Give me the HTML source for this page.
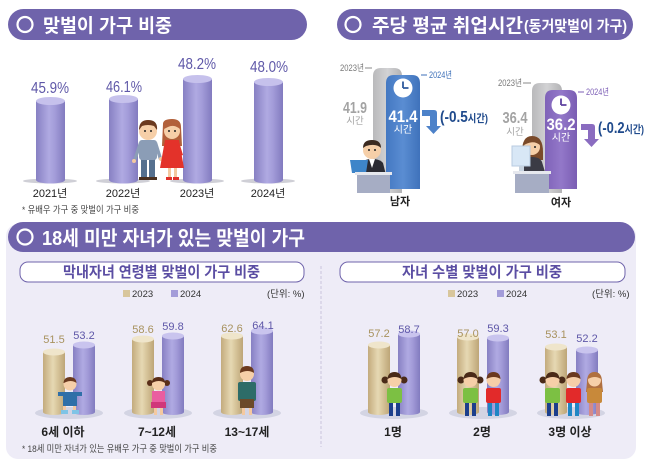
<!DOCTYPE html>
<html><head><meta charset="utf-8">
<style>
html,body{margin:0;padding:0;background:#fff;}
svg{display:block;font-family:"Liberation Sans","Noto Sans CJK KR",sans-serif;}
</style></head>
<body>
<svg width="650" height="463" viewBox="0 0 650 463" xmlns="http://www.w3.org/2000/svg">
<defs>
<linearGradient id="pg" x1="0" x2="1" y1="0" y2="0">
<stop offset="0" stop-color="#8780c3"/><stop offset="0.45" stop-color="#b0aae2"/><stop offset="0.65" stop-color="#a39cd9"/><stop offset="1" stop-color="#827bbf"/>
</linearGradient>
<linearGradient id="tg" x1="0" x2="1" y1="0" y2="0">
<stop offset="0" stop-color="#c3ab7d"/><stop offset="0.45" stop-color="#e6d8b3"/><stop offset="0.65" stop-color="#d8c69c"/><stop offset="1" stop-color="#bda577"/>
</linearGradient>
<linearGradient id="gg" x1="0" x2="1"><stop offset="0" stop-color="#b9b9bb"/><stop offset="0.5" stop-color="#d2d2d4"/><stop offset="1" stop-color="#b3b3b5"/></linearGradient>
<linearGradient id="bg" x1="0" x2="1"><stop offset="0" stop-color="#4478c2"/><stop offset="0.5" stop-color="#5a8dd2"/><stop offset="1" stop-color="#3f72bb"/></linearGradient>
<linearGradient id="vg" x1="0" x2="1"><stop offset="0" stop-color="#7f62b8"/><stop offset="0.5" stop-color="#9378c9"/><stop offset="1" stop-color="#7a5db3"/></linearGradient>
</defs>

<!-- ===== Banner 1 ===== -->
<rect x="8" y="9" width="299" height="31" rx="15.5" fill="#6f63ab"/>
<circle cx="25" cy="24.5" r="7.5" fill="none" stroke="#fff" stroke-width="2.2"/>
<text x="43" y="32" font-size="19" font-weight="bold" fill="#fff" textLength="129" lengthAdjust="spacingAndGlyphs">맞벌이 가구 비중</text>

<!-- shadows -->
<ellipse cx="50" cy="181" rx="27" ry="2.5" fill="#cfcfd6"/>
<ellipse cx="123" cy="181" rx="27" ry="2.5" fill="#cfcfd6"/>
<ellipse cx="197" cy="181" rx="27" ry="2.5" fill="#cfcfd6"/>
<ellipse cx="268" cy="181" rx="27" ry="2.5" fill="#cfcfd6"/>

<!-- bars top-left -->
<g>
<rect x="36" y="101" width="29" height="79" fill="url(#pg)"/><ellipse cx="50.5" cy="180" rx="14.5" ry="3.5" fill="url(#pg)"/><ellipse cx="50.5" cy="101" rx="14.5" ry="4" fill="#c6c1ec"/>
<rect x="109" y="99" width="29" height="81" fill="url(#pg)"/><ellipse cx="123.5" cy="180" rx="14.5" ry="3.5" fill="url(#pg)"/><ellipse cx="123.5" cy="99" rx="14.5" ry="4" fill="#c6c1ec"/>
<rect x="183" y="79" width="29" height="101" fill="url(#pg)"/><ellipse cx="197.5" cy="180" rx="14.5" ry="3.5" fill="url(#pg)"/><ellipse cx="197.5" cy="79" rx="14.5" ry="4" fill="#c6c1ec"/>
<rect x="254" y="82" width="29" height="98" fill="url(#pg)"/><ellipse cx="268.5" cy="180" rx="14.5" ry="3.5" fill="url(#pg)"/><ellipse cx="268.5" cy="82" rx="14.5" ry="4" fill="#c6c1ec"/>
</g>
<g font-size="16" fill="#5f58a8" text-anchor="middle">
<text x="50" y="93" textLength="38" lengthAdjust="spacingAndGlyphs">45.9%</text>
<text x="124" y="92" textLength="36" lengthAdjust="spacingAndGlyphs">46.1%</text>
<text x="197" y="69" textLength="38" lengthAdjust="spacingAndGlyphs">48.2%</text>
<text x="269" y="72" textLength="38" lengthAdjust="spacingAndGlyphs">48.0%</text>
</g>
<g font-size="11" fill="#222" text-anchor="middle">
<text x="50" y="197">2021년</text><text x="123" y="197">2022년</text><text x="197" y="197">2023년</text><text x="268" y="197">2024년</text>
</g>
<text x="22" y="213" font-size="9.5" fill="#444" textLength="117" lengthAdjust="spacingAndGlyphs">* 유배우 가구 중 맞벌이 가구 비중</text>

<!-- couple -->
<g>
<rect x="141" y="158" width="6" height="20" fill="#55708f"/><rect x="149" y="158" width="6" height="20" fill="#55708f"/>
<rect x="139" y="177" width="9" height="3" fill="#4a3020"/><rect x="148" y="177" width="9" height="3" fill="#4a3020"/>
<rect x="139" y="140" width="18" height="20" rx="3" fill="#8b9db6"/>
<path d="M139 142 L133 160 L136 161 L141 147 Z" fill="#8b9db6"/>
<path d="M157 142 L162 158 L159 160 L155 147 Z" fill="#8b9db6"/>
<circle cx="134" cy="161" r="2" fill="#f4c9a0"/><circle cx="161" cy="159" r="2" fill="#f4c9a0"/>
<circle cx="148" cy="131" r="9" fill="#f6cfa8"/>
<path d="M139 130 Q139 120 148 120 Q158 120 157 130 L154 126 Q148 124 142 126 Z" fill="#6b3a1f"/>
<circle cx="145" cy="131" r="1" fill="#222"/><circle cx="151" cy="131" r="1" fill="#222"/>
<rect x="168" y="166" width="3" height="11" fill="#f4c9a0"/><rect x="174" y="166" width="3" height="11" fill="#f4c9a0"/>
<rect x="166" y="177" width="6" height="3" fill="#e0302a"/><rect x="173" y="177" width="6" height="3" fill="#e0302a"/>
<path d="M163 124 Q163 119 172 119 Q181 119 181 127 L182 146 L162 146 Z" fill="#b2603a"/>
<path d="M165 140 L179 140 L184 168 L160 168 Z" fill="#e3322a"/>
<path d="M179 142 L183 155 L180 156 L177 147 Z" fill="#e3322a"/>
<circle cx="172" cy="131" r="8" fill="#f6cfa8"/>
<path d="M164 129 Q165 121 172 121 Q180 121 180 129 Q174 124 168 127 Z" fill="#b2603a"/>
<circle cx="169" cy="131" r="1" fill="#222"/><circle cx="175" cy="131" r="1" fill="#222"/>
</g>

<!-- ===== Banner 2 ===== -->
<rect x="337" y="9" width="296" height="31" rx="15.5" fill="#6f63ab"/>
<circle cx="353" cy="24.5" r="7.5" fill="none" stroke="#fff" stroke-width="2.2"/>
<text x="372" y="32" font-size="19" font-weight="bold" fill="#fff" textLength="151" lengthAdjust="spacingAndGlyphs">주당 평균 취업시간</text>
<text x="524" y="31" font-size="15" font-weight="bold" fill="#fff" textLength="103" lengthAdjust="spacingAndGlyphs">(동거맞벌이 가구)</text>

<!-- male -->
<path d="M373 193 L373 76 Q373 68 381 68 L394 68 Q402 68 402 76 L402 193 Z" fill="url(#gg)"/>
<path d="M386 189 L386 83 Q386 75 394 75 L412 75 Q420 75 420 83 L420 189 Z" fill="url(#bg)"/>
<circle cx="403" cy="88" r="9.5" fill="#fff"/>
<path d="M403 88 L403 81.5 M403 88 L408.5 88" stroke="#2f5a9c" stroke-width="1.8" fill="none"/>
<text x="403" y="122" font-size="17" font-weight="bold" fill="#fff" text-anchor="middle" textLength="29" lengthAdjust="spacingAndGlyphs">41.4</text>
<text x="403" y="133" font-size="10" fill="#fff" text-anchor="middle">시간</text>
<text x="340" y="71" font-size="9" fill="#777" textLength="24" lengthAdjust="spacingAndGlyphs">2023년</text>
<line x1="365" y1="68" x2="372" y2="68" stroke="#888" stroke-width="1"/>
<line x1="421" y1="75" x2="427" y2="75" stroke="#3c6fb8" stroke-width="1"/>
<text x="429" y="78" font-size="9" fill="#3c6fb8" textLength="23" lengthAdjust="spacingAndGlyphs">2024년</text>
<text x="355" y="113" font-size="16" font-weight="bold" fill="#a3a3a3" text-anchor="middle" textLength="24" lengthAdjust="spacingAndGlyphs">41.9</text>
<text x="355" y="124" font-size="9.5" fill="#a3a3a3" text-anchor="middle">시간</text>
<path d="M422 110 L434 110 Q437 110 437 113 L437 126 L441 126 L433.5 134 L426 126 L430 126 L430 116 L422 116 Z" fill="#4d82c9"/>
<text x="440" y="122" font-size="16" font-weight="bold" fill="#1f4a8c" textLength="48" lengthAdjust="spacingAndGlyphs">(-0.5<tspan font-size="11">시간)</tspan></text>
<circle cx="372" cy="150" r="9" fill="#f6cfa8"/>
<path d="M363 148 Q363 140 372 140 Q381 140 381 148 Q376 143 366 146 Z" fill="#3b2a20"/>
<circle cx="369" cy="150" r="1" fill="#222"/><circle cx="375" cy="150" r="1" fill="#222"/>
<path d="M360 175 L362 163 Q364 159 372 159 Q380 159 383 163 L386 175 Z" fill="#2b2b33"/>
<path d="M369 159 L372 168 L375 159 Z" fill="#fff"/>
<path d="M350 160 L368 160 L366 173 L352 173 Z" fill="#3e85c9"/>
<rect x="355" y="172" width="37" height="3" fill="#e6e8ee"/>
<rect x="357" y="175" width="33" height="18" fill="#a6adc4"/>
<text x="400" y="205" font-size="11" font-weight="bold" fill="#222" text-anchor="middle">남자</text>

<!-- female -->
<path d="M532 193 L532 91 Q532 83 540 83 L554 83 Q562 83 562 91 L562 193 Z" fill="url(#gg)"/>
<path d="M545 189 L545 98 Q545 90 553 90 L569 90 Q577 90 577 98 L577 189 Z" fill="url(#vg)"/>
<circle cx="561" cy="105" r="9.5" fill="#fff"/>
<path d="M561 105 L561 98.5 M561 105 L566.5 105" stroke="#5e42a0" stroke-width="1.8" fill="none"/>
<text x="561" y="130" font-size="17" font-weight="bold" fill="#fff" text-anchor="middle" textLength="29" lengthAdjust="spacingAndGlyphs">36.2</text>
<text x="561" y="141" font-size="10" fill="#fff" text-anchor="middle">시간</text>
<text x="498" y="86" font-size="9" fill="#777" textLength="24" lengthAdjust="spacingAndGlyphs">2023년</text>
<line x1="523" y1="83" x2="531" y2="83" stroke="#888" stroke-width="1"/>
<line x1="578" y1="92" x2="584" y2="92" stroke="#7b5cb5" stroke-width="1"/>
<text x="586" y="95" font-size="9" fill="#7b5cb5" textLength="23" lengthAdjust="spacingAndGlyphs">2024년</text>
<text x="515" y="123" font-size="16" font-weight="bold" fill="#a3a3a3" text-anchor="middle" textLength="25" lengthAdjust="spacingAndGlyphs">36.4</text>
<text x="515" y="135" font-size="9.5" fill="#a3a3a3" text-anchor="middle">시간</text>
<path d="M581 124 L592 124 Q595 124 595 127 L595 139 L599 139 L591.5 147 L584 139 L588 139 L588 130 L581 130 Z" fill="#8a6cc0"/>
<text x="598" y="133" font-size="16" font-weight="bold" fill="#1f4a8c" textLength="46" lengthAdjust="spacingAndGlyphs">(-0.2<tspan font-size="11">시간)</tspan></text>
<path d="M522 152 Q522 136 532 136 Q543 136 543 152 L543 160 L522 160 Z" fill="#7a4a2a"/>
<circle cx="532" cy="147" r="8" fill="#f6cfa8"/>
<path d="M524 145 Q525 138 532 138 Q540 138 540 145 Q534 140 526 144 Z" fill="#7a4a2a"/>
<circle cx="529" cy="147" r="1" fill="#222"/><circle cx="535" cy="147" r="1" fill="#222"/>
<path d="M520 172 L522 162 Q524 157 532 157 Q540 157 542 162 L545 172 Z" fill="#3b3b45"/>
<rect x="512" y="146" width="18" height="20" fill="#d8e7f6" stroke="#b9cbe0" stroke-width="1"/>
<rect x="519" y="166" width="5" height="5" fill="#c7d3e0"/>
<rect x="513" y="171" width="38" height="3" fill="#e6e8ee"/>
<rect x="515" y="174" width="34" height="19" fill="#a6adc4"/>
<text x="561" y="206" font-size="11" font-weight="bold" fill="#222" text-anchor="middle">여자</text>

<!-- ===== Bottom panel ===== -->
<rect x="6" y="224" width="630" height="235" rx="12" fill="#eeecf7"/>
<rect x="8" y="222" width="627" height="30" rx="15" fill="#6f63ab"/>
<circle cx="25" cy="237" r="7.5" fill="none" stroke="#fff" stroke-width="2.2"/>
<text x="42" y="245" font-size="20" font-weight="bold" fill="#fff" textLength="263" lengthAdjust="spacingAndGlyphs">18세 미만 자녀가 있는 맞벌이 가구</text>

<rect x="20" y="262" width="284" height="20" rx="8" fill="#fff" stroke="#6f63ab" stroke-width="1"/>
<text x="63" y="277" font-size="15" font-weight="bold" fill="#5b4ea3" textLength="197" lengthAdjust="spacingAndGlyphs">막내자녀 연령별 맞벌이 가구 비중</text>
<rect x="340" y="262" width="285" height="20" rx="8" fill="#fff" stroke="#6f63ab" stroke-width="1"/>
<text x="402" y="277" font-size="15" font-weight="bold" fill="#5b4ea3" textLength="160" lengthAdjust="spacingAndGlyphs">자녀 수별 맞벌이 가구 비중</text>

<line x1="321" y1="266" x2="321" y2="447" stroke="#c9c5de" stroke-width="1" stroke-dasharray="3,2"/>

<g font-size="9.5" fill="#333">
<rect x="123" y="290" width="7" height="7" fill="#d8c69c"/><text x="132" y="297">2023</text>
<rect x="171" y="290" width="7" height="7" fill="#a39cd9"/><text x="180" y="297">2024</text>
<text x="267" y="297">(단위: %)</text>
<rect x="448" y="290" width="7" height="7" fill="#d8c69c"/><text x="457" y="297">2023</text>
<rect x="497" y="290" width="7" height="7" fill="#a39cd9"/><text x="506" y="297">2024</text>
<text x="592" y="297">(단위: %)</text>
</g>

<g fill="#d3d4e3">
<ellipse cx="69" cy="413" rx="34" ry="6"/><ellipse cx="158" cy="413" rx="34" ry="6"/><ellipse cx="247" cy="413" rx="34" ry="6"/>
<ellipse cx="394" cy="413" rx="34" ry="6"/><ellipse cx="483" cy="413" rx="34" ry="6"/><ellipse cx="571" cy="413" rx="34" ry="6"/>
</g>

<g>
<rect x="43" y="352" width="22" height="60" fill="url(#tg)"/><ellipse cx="54" cy="412" rx="11" ry="3" fill="url(#tg)"/><ellipse cx="54" cy="352" rx="11" ry="3.5" fill="#efe5cb"/>
<rect x="73" y="345" width="22" height="67" fill="url(#pg)"/><ellipse cx="84" cy="412" rx="11" ry="3" fill="url(#pg)"/><ellipse cx="84" cy="345" rx="11" ry="3.5" fill="#c9c4ee"/>
<rect x="132" y="339" width="22" height="73" fill="url(#tg)"/><ellipse cx="143" cy="412" rx="11" ry="3" fill="url(#tg)"/><ellipse cx="143" cy="339" rx="11" ry="3.5" fill="#efe5cb"/>
<rect x="162" y="336" width="22" height="76" fill="url(#pg)"/><ellipse cx="173" cy="412" rx="11" ry="3" fill="url(#pg)"/><ellipse cx="173" cy="336" rx="11" ry="3.5" fill="#c9c4ee"/>
<rect x="221" y="336" width="22" height="76" fill="url(#tg)"/><ellipse cx="232" cy="412" rx="11" ry="3" fill="url(#tg)"/><ellipse cx="232" cy="336" rx="11" ry="3.5" fill="#efe5cb"/>
<rect x="251" y="331" width="22" height="81" fill="url(#pg)"/><ellipse cx="262" cy="412" rx="11" ry="3" fill="url(#pg)"/><ellipse cx="262" cy="331" rx="11" ry="3.5" fill="#c9c4ee"/>
</g>
<g font-size="11" text-anchor="middle">
<text x="54" y="343" fill="#a8925e">51.5</text><text x="84" y="339" fill="#5e57a8">53.2</text>
<text x="143" y="333" fill="#a8925e">58.6</text><text x="173" y="330" fill="#5e57a8">59.8</text>
<text x="232" y="332" fill="#a8925e">62.6</text><text x="263" y="329" fill="#5e57a8">64.1</text>
</g>

<g>
<rect x="368" y="345" width="22" height="67" fill="url(#tg)"/><ellipse cx="379" cy="412" rx="11" ry="3" fill="url(#tg)"/><ellipse cx="379" cy="345" rx="11" ry="3.5" fill="#efe5cb"/>
<rect x="398" y="334" width="22" height="78" fill="url(#pg)"/><ellipse cx="409" cy="412" rx="11" ry="3" fill="url(#pg)"/><ellipse cx="409" cy="334" rx="11" ry="3.5" fill="#c9c4ee"/>
<rect x="457" y="337" width="22" height="75" fill="url(#tg)"/><ellipse cx="468" cy="412" rx="11" ry="3" fill="url(#tg)"/><ellipse cx="468" cy="337" rx="11" ry="3.5" fill="#efe5cb"/>
<rect x="487" y="338" width="22" height="74" fill="url(#pg)"/><ellipse cx="498" cy="412" rx="11" ry="3" fill="url(#pg)"/><ellipse cx="498" cy="338" rx="11" ry="3.5" fill="#c9c4ee"/>
<rect x="545" y="347" width="22" height="65" fill="url(#tg)"/><ellipse cx="556" cy="412" rx="11" ry="3" fill="url(#tg)"/><ellipse cx="556" cy="347" rx="11" ry="3.5" fill="#efe5cb"/>
<rect x="576" y="350" width="22" height="62" fill="url(#pg)"/><ellipse cx="587" cy="412" rx="11" ry="3" fill="url(#pg)"/><ellipse cx="587" cy="350" rx="11" ry="3.5" fill="#c9c4ee"/>
</g>
<g font-size="11" text-anchor="middle">
<text x="379" y="337" fill="#a8925e">57.2</text><text x="409" y="333" fill="#5e57a8">58.7</text>
<text x="468" y="337" fill="#a8925e">57.0</text><text x="498" y="332" fill="#5e57a8">59.3</text>
<text x="556" y="338" fill="#a8925e">53.1</text><text x="587" y="342" fill="#5e57a8">52.2</text>
</g>

<g>
<rect x="63" y="404" width="3" height="8" fill="#f4c9a0"/><rect x="73" y="404" width="3" height="8" fill="#f4c9a0"/>
<rect x="61" y="410" width="7" height="4" fill="#7fc4e6"/><rect x="72" y="410" width="7" height="4" fill="#7fc4e6"/>
<path d="M58 392 L82 392 L82 396 L77 396 L77 406 L63 406 L63 396 L58 396 Z" fill="#2f6fa8"/>
<circle cx="70" cy="384" r="6.5" fill="#f6cfa8"/>
<path d="M63.5 383 Q64 377 70 377 Q76 377 76.5 383 Q71 379 64 383 Z" fill="#6b3a1f"/>
</g>
<g>
<rect x="154" y="406" width="3" height="9" fill="#f4c9a0"/><rect x="160" y="406" width="3" height="9" fill="#f4c9a0"/>
<rect x="152" y="391" width="13" height="12" fill="#ea5ea0"/>
<rect x="151" y="402" width="15" height="6" fill="#d0387a"/>
<circle cx="150" cy="383" r="3" fill="#5a2e18"/><circle cx="167" cy="383" r="3" fill="#5a2e18"/>
<circle cx="158.5" cy="384" r="6.5" fill="#f6cfa8"/>
<path d="M152 383 Q152 377 158.5 377 Q165 377 165 383 Q159 379 152 383 Z" fill="#5a2e18"/>
</g>
<g>
<rect x="242" y="406" width="3" height="9" fill="#f4c9a0"/><rect x="249" y="406" width="3" height="9" fill="#f4c9a0"/>
<rect x="238" y="382" width="18" height="19" rx="2" fill="#2d6c68"/>
<rect x="240" y="399" width="14" height="9" fill="#6b4a2a"/>
<circle cx="247" cy="374" r="7" fill="#f6cfa8"/>
<path d="M240 373 Q240 366 247 366 Q254 366 254 373 Q248 369 240 373 Z" fill="#6b3a1f"/>
</g>

<g>
<rect x="389" y="402" width="4" height="14" fill="#1c3f8c"/><rect x="396" y="402" width="4" height="14" fill="#1c3f8c"/>
<rect x="387" y="388" width="15" height="15" rx="2" fill="#7cc043"/>
<circle cx="385" cy="380" r="3.5" fill="#4a2a18"/><circle cx="404" cy="380" r="3.5" fill="#4a2a18"/>
<circle cx="394.5" cy="380" r="7" fill="#f6cfa8"/>
<path d="M387.5 379 Q388 372 394.5 372 Q401 372 401.5 379 Q395 375 387.5 379 Z" fill="#4a2a18"/>
<rect x="465" y="402" width="4" height="14" fill="#1c3f8c"/><rect x="472" y="402" width="4" height="14" fill="#1c3f8c"/>
<rect x="463" y="388" width="15" height="15" rx="2" fill="#7cc043"/>
<circle cx="461" cy="380" r="3.5" fill="#4a2a18"/><circle cx="480" cy="380" r="3.5" fill="#4a2a18"/>
<circle cx="470.5" cy="380" r="7" fill="#f6cfa8"/>
<path d="M463.5 379 Q464 372 470.5 372 Q477 372 477.5 379 Q471 375 463.5 379 Z" fill="#4a2a18"/>
<rect x="488" y="402" width="4" height="14" fill="#1f86c4"/><rect x="495" y="402" width="4" height="14" fill="#1f86c4"/>
<rect x="486" y="388" width="15" height="15" rx="2" fill="#e22a2a"/>
<circle cx="493.5" cy="380" r="7" fill="#f6cfa8"/>
<path d="M486.5 379 Q487 372 493.5 372 Q500 372 500.5 379 Q494 375 486.5 379 Z" fill="#6b3a1f"/>
<rect x="547" y="402" width="4" height="14" fill="#1c3f8c"/><rect x="554" y="402" width="4" height="14" fill="#1c3f8c"/>
<rect x="545" y="388" width="15" height="15" rx="2" fill="#7cc043"/>
<circle cx="543" cy="380" r="3.5" fill="#4a2a18"/><circle cx="562" cy="380" r="3.5" fill="#4a2a18"/>
<circle cx="552.5" cy="380" r="7" fill="#f6cfa8"/>
<path d="M545.5 379 Q546 372 552.5 372 Q559 372 559.5 379 Q553 375 545.5 379 Z" fill="#4a2a18"/>
<rect x="568" y="402" width="4" height="14" fill="#1f86c4"/><rect x="575" y="402" width="4" height="14" fill="#1f86c4"/>
<rect x="566" y="388" width="15" height="15" rx="2" fill="#e22a2a"/>
<circle cx="573.5" cy="380" r="7" fill="#f6cfa8"/>
<path d="M566.5 379 Q567 372 573.5 372 Q580 372 580.5 379 Q574 375 566.5 379 Z" fill="#6b3a1f"/>
<rect x="589" y="402" width="4" height="14" fill="#d48a88"/><rect x="596" y="402" width="4" height="14" fill="#d48a88"/>
<path d="M587 382 Q587 372 594.5 372 Q602 372 602 382 L603 392 L586 392 Z" fill="#b07040"/>
<rect x="587" y="388" width="15" height="15" rx="2" fill="#c8893a"/>
<circle cx="594.5" cy="380" r="6.5" fill="#f6cfa8"/>
<path d="M588 379 Q588.5 373 594.5 373 Q600.5 373 601 379 Q595 375 588 379 Z" fill="#b07040"/>
</g>

<g font-size="12" font-weight="bold" fill="#222" text-anchor="middle">
<text x="63" y="436">6세 이하</text><text x="157" y="436">7~12세</text><text x="247" y="436">13~17세</text>
<text x="393" y="436">1명</text><text x="482" y="436">2명</text><text x="570" y="436">3명 이상</text>
</g>
<text x="22" y="452" font-size="9.5" fill="#444" textLength="195" lengthAdjust="spacingAndGlyphs">* 18세 미만 자녀가 있는 유배우 가구 중 맞벌이 가구 비중</text>
</svg>
</body></html>
